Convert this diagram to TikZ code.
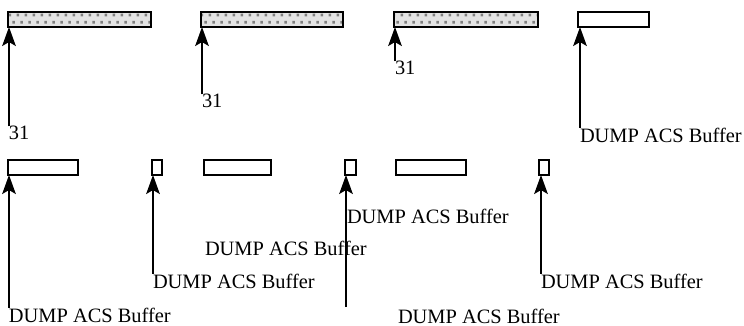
\documentclass[tikz,border=0pt]{standalone}
\usepackage{fontspec}
\setmainfont{Liberation Serif}
\usetikzlibrary{arrows.meta,patterns}
\pgfdeclarepatternformonly{bufdots}{\pgfpointorigin}{\pgfpoint{4pt}{7pt}}{\pgfpoint{4pt}{7pt}}{%
	\pgfpathrectangle{\pgfpoint{0.4pt}{0.8pt}}{\pgfpoint{1.4pt}{1.4pt}}%
	\pgfpathrectangle{\pgfpoint{2.4pt}{4.3pt}}{\pgfpoint{1.4pt}{1.4pt}}%
	\pgfusepath{fill}}
\begin{document}
\begin{tikzpicture}[x=0.5pt,y=-0.5pt,line join=miter,font=\fontsize{10.2}{12}\selectfont,
	buf/.style={draw,line width=1pt,inner sep=0pt,outer sep=0pt,anchor=south west,minimum height=7.5pt},
	dump/.style={buf,preaction={fill=gray!22},pattern=bufdots,pattern color=gray},
	lbl/.style={anchor=base west,inner sep=0pt,outer sep=0pt},
	ptr/.style={-{Stealth[length=9.5pt,width=6.8pt,inset=2pt]},line width=1pt}]
	\useasboundingbox (0,0) rectangle (744,326);
	% top row
	\node[dump,minimum width=71.5pt] (b1) at (8,27) {};
	\node[dump,minimum width=71pt] (b2) at (201,27) {};
	\node[dump,minimum width=72pt] (b3) at (394,27) {};
	\node[buf,minimum width=35.5pt] (b4) at (578,27) {};
	% bottom row
	\node[buf,minimum width=35pt] (b5) at (8,175) {};
	\node[buf,minimum width=5pt] (b6) at (152,175) {};
	\node[buf,minimum width=33.5pt] (b7) at (204,175) {};
	\node[buf,minimum width=5.5pt] (b8) at (345,175) {};
	\node[buf,minimum width=35pt] (b9) at (396,175) {};
	\node[buf,minimum width=5pt] (b10) at (539,175) {};
	% labels
	\node[lbl] (l1) at (9,140) {31};
	\node[lbl] (l2) at (202,108) {31};
	\node[lbl] (l3) at (395,75) {31};
	\node[lbl] (l4) at (580,142) {DUMP ACS Buffer};
	\node[lbl] (l5) at (9,322) {DUMP ACS Buffer};
	\node[lbl] (l6) at (153,288) {DUMP ACS Buffer};
	\node[lbl] (l7) at (205,255) {DUMP ACS Buffer};
	\node[lbl] (l8) at (347,223) {DUMP ACS Buffer};
	\node[lbl] (l9) at (398,323) {DUMP ACS Buffer};
	\node[lbl] (l10) at (541,288) {DUMP ACS Buffer};
	\coordinate (t8) at (346,307);
	% pointers
	\foreach \l/\b in {l1/b1,l2/b2,l3/b3,l4/b4,l5/b5,l6/b6,l10/b10}
	\draw[ptr] (\l.north west) -- (\l.north west |- \b.south);
	\draw[ptr] (t8) -- (t8 |- b8.south);
\end{tikzpicture}
\end{document}
